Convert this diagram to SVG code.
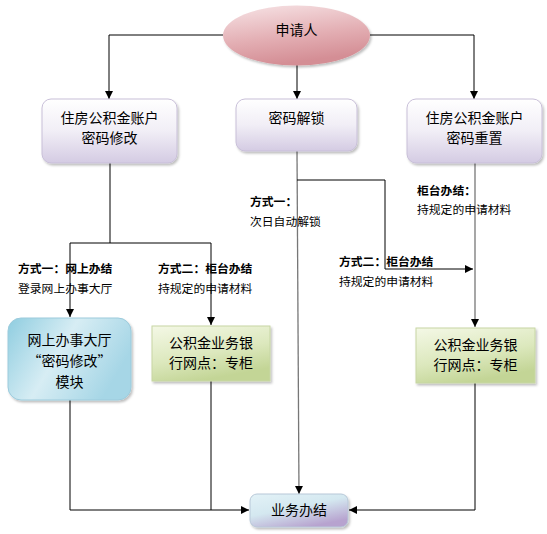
<svg xmlns="http://www.w3.org/2000/svg" width="547" height="534" viewBox="0 0 547 534">
<style>
.n{font-family:"Noto Sans CJK SC","Liberation Sans",sans-serif;font-size:14px;fill:#000;text-anchor:middle}
.t{font-family:"Noto Sans CJK SC","Liberation Sans",sans-serif;font-size:11.8px;fill:#000}
.b{font-weight:bold}
.c{fill:none;stroke:#000;stroke-width:1}
.g{fill:none;stroke:#777;stroke-width:1.3}
</style>
<defs>
<linearGradient id="pink" x1="0" y1="0" x2="0.3" y2="1"><stop offset="0" stop-color="#f7e4e6"/><stop offset="0.6" stop-color="#e3aeb3"/><stop offset="1" stop-color="#d48e95"/></linearGradient>
<linearGradient id="lav" x1="0" y1="0" x2="0" y2="1"><stop offset="0" stop-color="#ffffff"/><stop offset="0.5" stop-color="#f1eef6"/><stop offset="1" stop-color="#d4cbe3"/></linearGradient>
<linearGradient id="blue" x1="0" y1="0" x2="1" y2="0.4"><stop offset="0" stop-color="#8fcde0"/><stop offset="0.5" stop-color="#d7edf4"/><stop offset="1" stop-color="#a6d6e6"/></linearGradient>
<linearGradient id="green" x1="0" y1="0" x2="0.4" y2="1"><stop offset="0" stop-color="#f4f8e6"/><stop offset="0.6" stop-color="#dce8bd"/><stop offset="1" stop-color="#c3d596"/></linearGradient>
<linearGradient id="done" x1="0" y1="0" x2="0.6" y2="1"><stop offset="0" stop-color="#e3f2f7"/><stop offset="0.5" stop-color="#d4e8f0"/><stop offset="1" stop-color="#b7a3cf"/></linearGradient>
<marker id="a" viewBox="0 0 10 10" refX="10" refY="5" markerWidth="8" markerHeight="8" markerUnits="userSpaceOnUse" orient="auto"><path d="M0,0L10,5L0,10z" fill="#000"/></marker>
<filter id="sh" x="-10%" y="-10%" width="125%" height="130%"><feDropShadow dx="1.5" dy="2" stdDeviation="1" flood-color="#000" flood-opacity="0.25"/></filter>
</defs>

<g id="connectors">
<path class="c" d="M223,35H109V99" marker-end="url(#a)"/>
<path class="c" d="M297,65V99" marker-end="url(#a)"/>
<path class="c" d="M370,35H474V99" marker-end="url(#a)"/>
<path class="c" d="M110,163V243"/>
<path class="c" d="M70,243H211"/>
<path class="c" d="M70,243V317" marker-end="url(#a)"/>
<path class="c" d="M211,243V325" marker-end="url(#a)"/>
<path class="g" d="M297,151L299,494" marker-end="url(#a)"/>
<path class="c" d="M297,180H385V269H473" marker-end="url(#a)"/>
<path class="g" d="M475,163V327" marker-end="url(#a)"/>
<path class="c" d="M70,400V510H249" marker-end="url(#a)"/>
<path class="c" d="M211,381V510"/>
<path class="c" d="M475,383V510H349" marker-end="url(#a)"/>
</g>

<g id="applicant">
<ellipse cx="296.5" cy="35.5" rx="73.5" ry="30" fill="url(#pink)" filter="url(#sh)"/>
<text class="n" x="296.5" y="35" dy="0">申请人</text>
</g>
<g id="modify">
<rect x="42" y="99" width="135" height="64" rx="9" fill="url(#lav)" stroke="#c8bfd8" filter="url(#sh)"/>
<text class="n" x="109.5" y="123">住房公积金账户</text>
<text class="n" x="109.5" y="143">密码修改</text>
</g>
<g id="unlock">
<rect x="236" y="99" width="121" height="52" rx="9" fill="url(#lav)" stroke="#c8bfd8" filter="url(#sh)"/>
<text class="n" x="296.5" y="123">密码解锁</text>
</g>
<g id="reset">
<rect x="407" y="99" width="135" height="64" rx="9" fill="url(#lav)" stroke="#c8bfd8" filter="url(#sh)"/>
<text class="n" x="474.5" y="123">住房公积金账户</text>
<text class="n" x="474.5" y="143">密码重置</text>
</g>

<g id="labels">
<text class="t b" x="18" y="273">方式一：网上办结</text>
<text class="t" x="18" y="293">登录网上办事大厅</text>
<text class="t b" x="158" y="273">方式二：柜台办结</text>
<text class="t" x="158" y="293">持规定的申请材料</text>
<text class="t b" x="250" y="206">方式一：</text>
<text class="t" x="250" y="226">次日自动解锁</text>
<text class="t b" x="417" y="195">柜台办结：</text>
<text class="t" x="417" y="214">持规定的申请材料</text>
<text class="t b" x="339" y="266">方式二：柜台办结</text>
<text class="t" x="339" y="286">持规定的申请材料</text>
</g>

<g id="online">
<rect x="8" y="318" width="123" height="82" rx="13" fill="url(#blue)" stroke="#9ccbdc" filter="url(#sh)"/>
<text class="n" x="69.5" y="345">网上办事大厅</text>
<text class="n" x="69.5" y="366">“密码修改”</text>
<text class="n" x="69.5" y="387">模块</text>
</g>
<g id="bank1">
<rect x="152" y="326" width="118" height="55" fill="url(#green)" stroke="#c7d6a4" filter="url(#sh)"/>
<text class="n" x="211" y="348">公积金业务银</text>
<text class="n" x="211" y="368">行网点：专柜</text>
</g>
<g id="bank2">
<rect x="416" y="328" width="119" height="55" fill="url(#green)" stroke="#c7d6a4" filter="url(#sh)"/>
<text class="n" x="475.5" y="350">公积金业务银</text>
<text class="n" x="475.5" y="370">行网点：专柜</text>
</g>
<g id="done">
<rect x="250" y="494" width="98" height="33" rx="7" fill="url(#done)" stroke="#b8c8d8" filter="url(#sh)"/>
<text class="n" x="299" y="515">业务办结</text>
</g>
</svg>
